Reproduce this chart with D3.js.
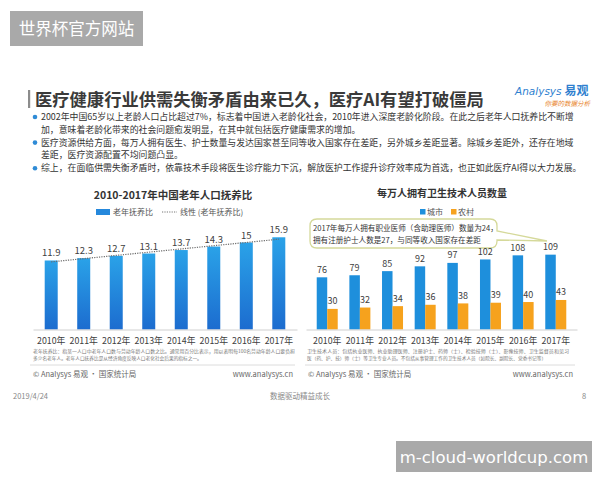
<!DOCTYPE html>
<html>
<head>
<meta charset="utf-8">
<script src="https://cdn.jsdelivr.net/npm/d3@7"></script>
<style>
  body { margin: 0; background: #fff; }
  svg { font-family: "Noto Sans CJK SC", "Noto Sans", sans-serif; }
</style>
</head>
<body>
<div id="chart"></div>
<script>
// ---- data ----
const years = ["2010年", "2011年", "2012年", "2013年", "2014年", "2015年", "2016年", "2017年"];
const dependencyRatio = [11.9, 12.3, 12.7, 13.1, 13.7, 14.3, 15, 15.9];
const cityStaff = [76, 79, 85, 92, 97, 102, 108, 109];
const ruralStaff = [30, 32, 34, 36, 38, 39, 40, 43];
const staffSeries = ["城市", "农村"];

const bullets = [
    ["2002年中国65岁以上老龄人口占比超过7%，标志着中国进入老龄化社会，2010年进入深度老龄化阶段。在此之后老年人口抚养比不断增",
     "加，意味着老龄化带来的社会问题愈发明显，在其中就包括医疗健康需求的增加。"],
    ["医疗资源供给方面，每万人拥有医生、护士数量与发达国家甚至同等收入国家存在差距，另外城乡差距显著。除城乡差距外，还存在地域",
     "差距，医疗资源配置不均问题凸显。"],
    ["综上，在面临供需失衡矛盾时，依靠技术手段将医生诊疗能力下沉，解放医护工作提升诊疗效率成为首选，也正如此医疗AI得以大力发展。"]
];

const W = 600, H = 480;
const svg = d3.select("#chart").append("svg")
    .attr("width", W).attr("height", H);

const textColor = "#404040";

// ---- header ----
svg.append("rect").attr("x", 28).attr("y", 90).attr("width", 2.2).attr("height", 18).attr("fill", "#8c8c8c");
svg.append("text")
    .attr("x", 35).attr("y", 106)
    .attr("font-size", 17.3).attr("font-weight", "bold").attr("fill", "#3a3a3a")
    .text("医疗健康行业供需失衡矛盾由来已久，医疗AI有望打破僵局");

// logo
let logo = svg.append("text").attr("x", 515).attr("y", 95).attr("fill", "#2f7fcf");
logo.append("tspan").attr("font-size", 10.5).attr("font-style", "italic").attr("font-family", "DejaVu Sans").text("Analysys");
logo.append("tspan").attr("dx", 3).attr("font-size", 12).attr("font-weight", "bold").text("易观");
svg.append("text").attr("x", 590).attr("y", 106).attr("text-anchor", "end")
    .attr("font-size", 6.5).attr("font-style", "italic").attr("fill", "#e8842a")
    .text("你要的数据分析");

// bullets
let lineY = 120;
bullets.forEach(b => {
    svg.append("circle").attr("cx", 35).attr("cy", lineY - 3).attr("r", 2.3).attr("fill", "#2f8bd6");
    b.forEach(line => {
        svg.append("text").attr("x", 41).attr("y", lineY)
            .attr("font-size", 8.9).attr("fill", "#333")
            .text(line);
        lineY += 12.8;
    });
});

// ---- left chart: 老年人口抚养比 ----
const xL = d3.scaleBand().domain(years).range([33, 297]).paddingInner(0.6).paddingOuter(0.36);
const yL = d3.scaleLinear().domain([0, 16]).range([329.5, 236.7]);

svg.append("text").attr("x", 173).attr("y", 199).attr("text-anchor", "middle")
    .attr("font-size", 10.5).attr("font-weight", "bold").attr("fill", "#333")
    .text("2010-2017年中国老年人口抚养比");

// legend
svg.append("rect").attr("x", 96).attr("y", 209).attr("width", 14).attr("height", 6).attr("fill", "#2588dc");
svg.append("text").attr("x", 113).attr("y", 215).attr("font-size", 8).attr("fill", "#555").text("老年抚养比");
svg.append("line").attr("x1", 162).attr("x2", 177).attr("y1", 212).attr("y2", 212)
    .attr("stroke", "#777").attr("stroke-width", 1.2).attr("stroke-dasharray", "1.2,1.2");
svg.append("text").attr("x", 180).attr("y", 215).attr("font-size", 8).attr("fill", "#555").text("线性 (老年抚养比)");

const defs = svg.append("defs");
const grad = defs.append("linearGradient").attr("id", "barGrad")
    .attr("x1", "0%").attr("x2", "0%").attr("y1", "0%").attr("y2", "100%");
grad.append("stop").attr("offset", "0%").attr("stop-color", "#2aa2e8");
grad.append("stop").attr("offset", "100%").attr("stop-color", "#1c6ccf");

const ratioData = years.map((y, i) => ({year: y, value: dependencyRatio[i]}));

svg.append("g").selectAll("rect")
    .data(ratioData).enter().append("rect")
    .attr("x", d => xL(d.year))
    .attr("y", d => yL(d.value))
    .attr("width", xL.bandwidth())
    .attr("height", d => yL(0) - yL(d.value))
    .attr("fill", "url(#barGrad)");

svg.append("g").selectAll("text")
    .data(ratioData).enter().append("text")
    .attr("x", d => xL(d.year) + xL.bandwidth() / 2)
    .attr("y", d => yL(d.value) - 4)
    .attr("text-anchor", "middle").attr("font-size", 9.5).attr("fill", textColor)
    .text(d => d.value);

// linear trend line (least squares on the bars)
const n = dependencyRatio.length;
const mx = (n + 1) / 2, my = d3.mean(dependencyRatio);
const slope = d3.sum(dependencyRatio, (v, i) => (i + 1 - mx) * (v - my)) / d3.sum(dependencyRatio, (v, i) => (i + 1 - mx) ** 2);
const trend = i => my + slope * (i + 1 - mx);
svg.append("line")
    .attr("x1", xL(years[0]) + xL.bandwidth() / 2).attr("y1", yL(trend(0)))
    .attr("x2", xL(years[n - 1]) + xL.bandwidth() / 2).attr("y2", yL(trend(n - 1)))
    .attr("stroke", "#6b6b6b").attr("stroke-width", 1.2).attr("stroke-dasharray", "1.2,1.2");

const axL = svg.append("g").attr("transform", "translate(0,329.5)")
    .call(d3.axisBottom(xL).tickSize(0).tickPadding(8));
axL.select(".domain").attr("stroke", "#d0d0d0");
axL.selectAll("text").attr("font-size", 8.8).attr("fill", textColor).attr("font-family", "Noto Sans CJK SC");

// ---- right chart: 每万人卫生技术人员 ----
const xR = d3.scaleBand().domain(years).range([306, 577]).paddingInner(0).paddingOuter(0.15);
const xSub = d3.scaleBand().domain(staffSeries).range([xR.bandwidth() / 2 - 10.5, xR.bandwidth() / 2 + 10.5]);
const yR = d3.scaleLinear().domain([0, 120]).range([329.5, 247.1]);
const colors = {"城市": "#1e8fdc", "农村": "#f6a21d"};

svg.append("text").attr("x", 442).attr("y", 197).attr("text-anchor", "middle")
    .attr("font-size", 10).attr("font-weight", "bold").attr("fill", "#333")
    .text("每万人拥有卫生技术人员数量");

staffSeries.forEach((s, i) => {
    svg.append("rect").attr("x", 420 + i * 31).attr("y", 209).attr("width", 5.5).attr("height", 5.5).attr("fill", colors[s]);
    svg.append("text").attr("x", 427 + i * 31).attr("y", 215).attr("font-size", 8).attr("fill", "#555").text(s);
});

// callout bubble (drawn before the bars so value labels stay on top)
const bx0 = 310, by0 = 219, bx1 = 497, by1 = 248, r = 7;
svg.append("path")
    .attr("d", `M${bx0 + r},${by0} H${bx1 - r} Q${bx1},${by0} ${bx1},${by0 + r} V231 L547,241 L${bx1},240 V${by1 - r} Q${bx1},${by1} ${bx1 - r},${by1} H${bx0 + r} Q${bx0},${by1} ${bx0},${by1 - r} V${by0 + r} Q${bx0},${by0} ${bx0 + r},${by0} Z`)
    .attr("fill", "#fff").attr("stroke", "#d5d99a").attr("stroke-width", 1.3);
svg.append("text").attr("x", 313).attr("y", 230.5).attr("font-size", 7.6).attr("fill", "#333")
    .text("2017年每万人拥有职业医师（含助理医师）数量为24，");
svg.append("text").attr("x", 313).attr("y", 242.5).attr("font-size", 7.6).attr("fill", "#333")
    .text("拥有注册护士人数是27，与同等收入国家存在差距");

const staffData = years.map((y, i) => ({year: y, values: [{key: "城市", value: cityStaff[i]}, {key: "农村", value: ruralStaff[i]}]}));

const groups = svg.append("g").selectAll("g")
    .data(staffData).enter().append("g")
    .attr("transform", d => `translate(${xR(d.year)},0)`);

groups.selectAll("rect")
    .data(d => d.values).enter().append("rect")
    .attr("x", d => xSub(d.key))
    .attr("y", d => yR(d.value))
    .attr("width", xSub.bandwidth())
    .attr("height", d => yR(0) - yR(d.value))
    .attr("fill", d => colors[d.key]);

groups.selectAll("text")
    .data(d => d.values).enter().append("text")
    .attr("x", d => xSub(d.key) + xSub.bandwidth() / 2)
    .attr("y", d => yR(d.value) - 4.5)
    .attr("text-anchor", "middle").attr("font-size", 9).attr("fill", textColor)
    .text(d => d.value);

const axR = svg.append("g").attr("transform", "translate(0,329.5)")
    .call(d3.axisBottom(xR).tickSize(0).tickPadding(8));
axR.select(".domain").attr("stroke", "#d0d0d0");
axR.selectAll("text").attr("font-size", 8.8).attr("fill", textColor).attr("font-family", "Noto Sans CJK SC");

// ---- notes and sources ----
const notes = [
    {x: 33, w: 262, lines: ["老年抚养比：指某一人口中老年人口数与劳动年龄人口数之比。通常用百分比表示，用以表明每100名劳动年龄人口要负担",
                            "多少名老年人。老年人口抚养比是从经济角度反映人口老化社会后果的指标之一。"]},
    {x: 307, w: 262, lines: ["卫生技术人员：包括执业医师、执业助理医师、注册护士、药师（士）、检验技师（士）、影像技师、卫生监督员和见习",
                             "医（药、护、技）师（士）等卫生专业人员。不包括从事管理工作的卫生技术人员（如院长、副院长、党委书记等）"]}
];
notes.forEach(nt => {
    nt.lines.forEach((l, i) => {
        let t = svg.append("text").attr("x", nt.x).attr("y", 353 + i * 6.5).attr("font-size", 4.7).attr("fill", "#777").text(l);
        if (i === 0) t.attr("textLength", nt.w).attr("lengthAdjust", "spacingAndGlyphs");
    });
});

[[30, 295], [305, 575]].forEach(([a, b]) => {
    svg.append("line").attr("x1", a).attr("x2", b).attr("y1", 365).attr("y2", 365).attr("stroke", "#dcdcdc");
    svg.append("text").attr("x", a + 3).attr("y", 377).attr("font-size", 7.5).attr("fill", "#666")
        .text("© Analysys 易观 · 国家统计局");
    svg.append("text").attr("x", b - 2).attr("y", 377).attr("text-anchor", "end").attr("font-size", 7.5).attr("fill", "#666")
        .text("www.analysys.cn");
});

// footer
svg.append("text").attr("x", 13).attr("y", 399).attr("font-size", 7.5).attr("fill", "#888").text("2019/4/24");
svg.append("text").attr("x", 300).attr("y", 399).attr("text-anchor", "middle").attr("font-size", 7.5).attr("fill", "#888").text("数据驱动精益成长");
svg.append("text").attr("x", 582).attr("y", 399).attr("font-size", 7.5).attr("fill", "#888").text("8");

// overlay labels
svg.append("rect").attr("x", 10).attr("y", 11).attr("width", 133).attr("height", 35).attr("fill", "#a9a9a9");
svg.append("text").attr("x", 76.5).attr("y", 34.5).attr("text-anchor", "middle")
    .attr("font-size", 16.5).attr("fill", "#fff").text("世界杯官方网站");
svg.append("rect").attr("x", 396).attr("y", 441).attr("width", 196).attr("height", 31).attr("fill", "#a9a9a9");
svg.append("text").attr("x", 494).attr("y", 462.5).attr("text-anchor", "middle")
    .attr("font-size", 16.5).attr("fill", "#fff").attr("font-family", "DejaVu Sans").text("m-cloud-worldcup.com");
</script>
</body>
</html>
